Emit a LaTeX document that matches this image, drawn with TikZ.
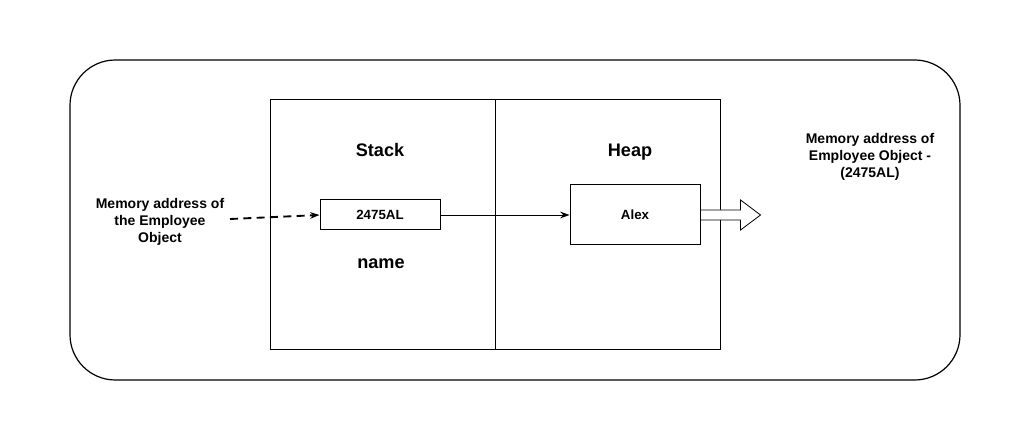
\documentclass[tikz,border=0pt]{standalone}
\usepackage{fontspec}
\setmainfont{Liberation Sans}
\usetikzlibrary{arrows.meta,calc}
\begin{document}
\begin{tikzpicture}[x=0.75pt,y=-0.75pt,
  box/.style={draw=black,line width=0.75pt,inner sep=0pt},
  lbl/.style={font=\bfseries\fontsize{10}{12}\selectfont,align=center,inner sep=0pt},
  mlbl/.style={font=\bfseries\fontsize{10.5}{13}\selectfont,align=center,inner sep=0pt},
  big/.style={font=\bfseries\fontsize{13.6}{16}\selectfont,inner sep=0pt,text height=9.8pt,text depth=0pt},
  conn/.style={-{Stealth[length=7pt,width=5pt]},line width=0.6pt}]
\useasboundingbox (0,0) rectangle (1031,441);
\draw[line width=0.9pt,rounded corners=34pt] (70,60) rectangle (960,380);
\node[box,minimum width=168.75pt,minimum height=187.5pt] (stack) at (382.5,225) {};
\node[box,minimum width=168.75pt,minimum height=187.5pt] (heap) at (607.5,225) {};
\node[big] (stacklbl) at (380,150) {Stack};
\node[big] (heaplbl) at (630,150) {Heap};
\node[big] (name) at (381,262) {name};
\node[box,minimum width=90pt,minimum height=22.5pt,lbl] (addr) at (380,215) {2475AL};
\node[box,minimum width=97.5pt,minimum height=45pt,lbl] (alex) at (635,215) {Alex};
\node[mlbl] (left) at (160,222) {Memory address of\\the Employee\\Object};
\node[mlbl] (right) at (870,157) {Memory address of\\Employee Object -\\(2475AL)};
\coordinate (dstart) at (230,219);
\draw[conn,dashed,line width=1.4pt,dash pattern=on 6pt off 4pt] (dstart) -- (addr.west);
\draw[conn] (addr.east) -- (alex.west);
\draw[line width=0.6pt,fill=white]
  ($(alex.east)+(0,-5)$) -- ++(40,0) -- ++(0,-10) -- ++(20,15) -- ++(-20,15) -- ++(0,-10) -- ++(-40,0) -- cycle;
\end{tikzpicture}
\end{document}
